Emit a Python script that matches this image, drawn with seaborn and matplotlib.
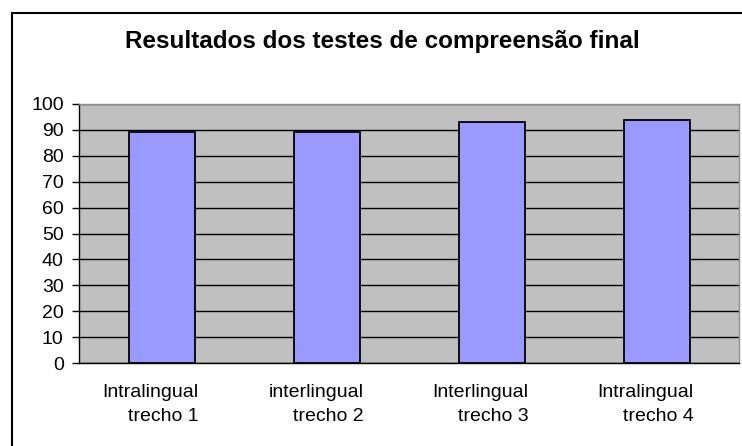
import matplotlib
matplotlib.use("Agg")
import matplotlib.pyplot as plt
import seaborn as sns
import pandas as pd
from matplotlib.patches import Rectangle

categories = ["Intralingual\ntrecho 1", "interlingual\ntrecho 2", "Interlingual\ntrecho 3", "Intralingual\ntrecho 4"]
values = [89, 89, 93, 94]
y_ticks = list(range(0, 101, 10))
title = "Resultados dos testes de compreensão final"

sns.set_theme(style="white")
plt.rcParams['font.family'] = ['Liberation Sans', 'DejaVu Sans']
plt.rcParams['text.color'] = 'black'
plt.rcParams['xtick.color'] = 'black'
plt.rcParams['ytick.color'] = 'black'

df = pd.DataFrame({"cat": categories, "val": values})

fig = plt.figure(figsize=(7.42, 4.46), dpi=100)
fig.patch.set_facecolor("white")
ax = fig.add_axes([79/742, 1-363/446, (739-79)/742, (363-104)/446])
ax.set_facecolor("#C0C0C0")
ax.set_axisbelow(True)

sns.barplot(data=df, x="cat", y="val", color="#9999FF", edgecolor="black",
            linewidth=1.3, width=0.4, saturation=1, ax=ax)
for p in ax.patches:
    p.set_zorder(3)

ax.set_ylim(0, 100)
ax.set_xlim(-0.5, 3.5)
ax.set_yticks(y_ticks)
ax.set_yticklabels([str(t) for t in y_ticks], fontsize=14)
ax.yaxis.grid(True, color="black", linewidth=1)
ax.xaxis.grid(False)

n = len(categories)
ax.set_xticks([i - 0.5 for i in range(n + 1)])
ax.set_xticklabels([])
ax.set_xticks([i + 0.224 for i in range(n)], minor=True)
ax.set_xticklabels(categories, minor=True, fontsize=14, linespacing=1.55)
ax.tick_params(axis="x", which="minor", length=0, pad=15)
ax.tick_params(axis="x", which="major", length=4, width=1, color="black", direction="out")
ax.tick_params(axis="y", length=5, width=1, color="black", direction="out", left=True, pad=6)
for lbl in ax.get_xticklabels(minor=True):
    lbl.set_horizontalalignment("right")
    lbl.set_multialignment("right")

ax.set_xlabel("")
ax.set_ylabel("")
ax.spines["left"].set_color("black")
ax.spines["bottom"].set_color("black")
ax.spines["top"].set_color("#909090")
ax.spines["right"].set_color("#909090")
for s in ax.spines.values():
    s.set_visible(True)
    s.set_linewidth(1)

fig.text(382.5/742, 1-48/446, title, ha="center", va="baseline", fontsize=17.5, fontweight="bold")

fig.patches.append(Rectangle((12.5/742, -0.1), 1.2, 1-13/446+0.1, transform=fig.transFigure,
                             fill=False, edgecolor="black", linewidth=1.5, figure=fig))

fig.savefig("out.png", dpi=100)
